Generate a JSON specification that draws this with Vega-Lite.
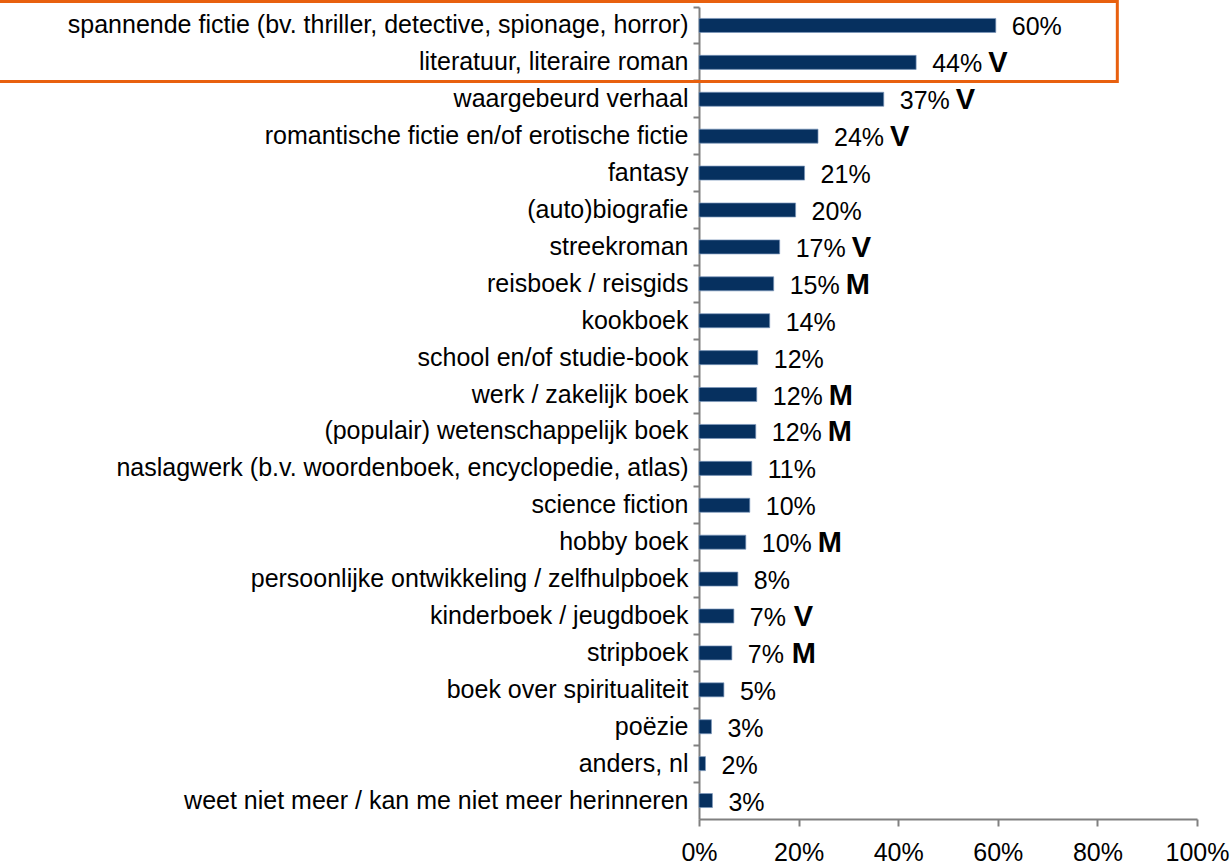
{
  "$schema": "https://vega.github.io/schema/vega-lite/v6.json",
  "width": 498,
  "height": 812,
  "autosize": {"type": "none"},
  "padding": {"left": 699, "top": 7, "right": 34, "bottom": 46},
  "background": "white",
  "config": {"view": {"stroke": null}, "font": "Liberation Sans"},
  "datasets": {
    "rows": [
      {"cat": "spannende fictie (bv. thriller, detective, spionage, horror)", "value": 59.6, "label": "60%", "mark": ""},
      {"cat": "literatuur, literaire roman", "value": 43.6, "label": "44%", "mark": "V"},
      {"cat": "waargebeurd verhaal", "value": 37.1, "label": "37%", "mark": "V"},
      {"cat": "romantische fictie en/of erotische fictie", "value": 23.9, "label": "24%", "mark": "V"},
      {"cat": "fantasy", "value": 21.2, "label": "21%", "mark": ""},
      {"cat": "(auto)biografie", "value": 19.4, "label": "20%", "mark": ""},
      {"cat": "streekroman", "value": 16.2, "label": "17%", "mark": "V"},
      {"cat": "reisboek / reisgids", "value": 15.0, "label": "15%", "mark": "M"},
      {"cat": "kookboek", "value": 14.2, "label": "14%", "mark": ""},
      {"cat": "school en/of studie-book", "value": 11.8, "label": "12%", "mark": ""},
      {"cat": "werk / zakelijk boek", "value": 11.6, "label": "12%", "mark": "M"},
      {"cat": "(populair) wetenschappelijk boek", "value": 11.4, "label": "12%", "mark": "M"},
      {"cat": "naslagwerk (b.v. woordenboek, encyclopedie, atlas)", "value": 10.6, "label": "11%", "mark": ""},
      {"cat": "science fiction", "value": 10.2, "label": "10%", "mark": ""},
      {"cat": "hobby boek", "value": 9.4, "label": "10%", "mark": "M"},
      {"cat": "persoonlijke ontwikkeling / zelfhulpboek", "value": 7.8, "label": "8%", "mark": ""},
      {"cat": "kinderboek / jeugdboek", "value": 7.0, "label": "7%", "mark": "V"},
      {"cat": "stripboek", "value": 6.6, "label": "7%", "mark": "M"},
      {"cat": "boek over spiritualiteit", "value": 5.0, "label": "5%", "mark": ""},
      {"cat": "poëzie", "value": 2.5, "label": "3%", "mark": ""},
      {"cat": "anders, nl", "value": 1.3, "label": "2%", "mark": ""},
      {"cat": "weet niet meer / kan me niet meer herinneren", "value": 2.7, "label": "3%", "mark": ""}
    ],
    "box": [
      {"x1": -141, "x2": 84, "y1": -0.15, "y2": 2.02}
    ]
  },
  "layer": [
    {
      "data": {"name": "rows"},
      "encoding": {
        "y": {
          "field": "cat",
          "type": "nominal",
          "sort": null,
          "scale": {
            "paddingInner": 0,
            "paddingOuter": 0,
            "domain": [
              "spannende fictie (bv. thriller, detective, spionage, horror)",
              "literatuur, literaire roman",
              "waargebeurd verhaal",
              "romantische fictie en/of erotische fictie",
              "fantasy",
              "(auto)biografie",
              "streekroman",
              "reisboek / reisgids",
              "kookboek",
              "school en/of studie-book",
              "werk / zakelijk boek",
              "(populair) wetenschappelijk boek",
              "naslagwerk (b.v. woordenboek, encyclopedie, atlas)",
              "science fiction",
              "hobby boek",
              "persoonlijke ontwikkeling / zelfhulpboek",
              "kinderboek / jeugdboek",
              "stripboek",
              "boek over spiritualiteit",
              "poëzie",
              "anders, nl",
              "weet niet meer / kan me niet meer herinneren"
            ]
          },
          "axis": {
            "title": null,
            "bandPosition": 0,
            "domainColor": "#808080",
            "domainWidth": 2,
            "tickColor": "#808080",
            "tickWidth": 2,
            "tickSize": 6,
            "labelPadding": 5,
            "labelFontSize": 25,
            "labelColor": "#000000",
            "labelLimit": 800,
            "labelFont": "Liberation Sans"
          }
        },
        "x": {
          "field": "value",
          "type": "quantitative",
          "scale": {"domain": [0, 100], "nice": false},
          "axis": {
            "title": null,
            "values": [0, 20, 40, 60, 80, 100],
            "labelExpr": "datum.value + '%'",
            "grid": false,
            "domainColor": "#808080",
            "domainWidth": 2,
            "tickColor": "#808080",
            "tickWidth": 2,
            "tickSize": 7,
            "labelPadding": 14,
            "labelFontSize": 25,
            "labelColor": "#000000",
            "labelFont": "Liberation Sans",
            "labelFlush": false
          }
        }
      },
      "layer": [
        {
          "mark": {"type": "bar", "color": "#06305f", "height": {"band": 0.38}, "stroke": "#7d98bb", "strokeWidth": 0.7}
        },
        {
          "mark": {"type": "text", "align": "left", "baseline": "middle", "dx": 16, "dy": 2, "fontSize": 25, "font": "Liberation Sans", "color": "#000000"},
          "encoding": {"text": {"field": "label"}}
        },
        {
          "mark": {"type": "text", "align": "left", "baseline": "middle", "dx": 72, "dy": 1, "fontSize": 29, "fontWeight": "bold", "font": "Liberation Sans", "color": "#000000"},
          "encoding": {"text": {"condition": {"test": "length(datum.label) == 3", "field": "mark"}, "value": ""}}
        },
        {
          "mark": {"type": "text", "align": "left", "baseline": "middle", "dx": 60, "dy": 1, "fontSize": 29, "fontWeight": "bold", "font": "Liberation Sans", "color": "#000000"},
          "encoding": {"text": {"condition": {"test": "length(datum.label) == 2", "field": "mark"}, "value": ""}}
        }
      ]
    },
    {
      "data": {"name": "box"},
      "mark": {"type": "rect", "filled": false, "stroke": "#e8600e", "strokeWidth": 3, "clip": false},
      "encoding": {
        "x": {"field": "x1", "type": "quantitative", "scale": {"domain": [0, 100], "nice": false}, "axis": {"title": null}},
        "x2": {"field": "x2"},
        "y": {"field": "y1", "type": "quantitative", "scale": {"domain": [22, 0], "nice": false, "zero": false}, "axis": null},
        "y2": {"field": "y2"}
      }
    }
  ],
  "resolve": {"scale": {"y": "independent"}}
}
